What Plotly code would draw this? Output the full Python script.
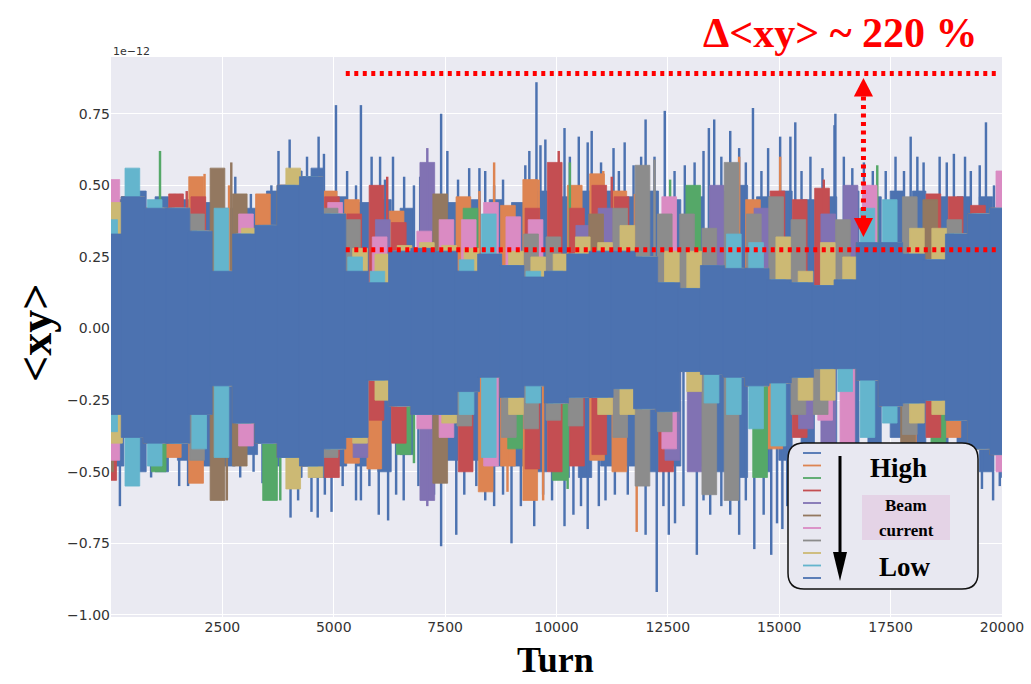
import plotly.graph_objects as go

# ---------------- data (in units of 1e-12) ----------------
TURNS = list(range(0, 20001, 500))          # block centres, 41 blocks

X_TICKS = [2500, 5000, 7500, 10000, 12500, 15000, 17500, 20000]
Y_TICKS = [-1.00, -0.75, -0.50, -0.25, 0.00, 0.25, 0.50, 0.75]

SERIES_NAMES = ["I1 (high)", "I2", "I3", "I4", "I5", "I6", "I7", "I8", "I9", "I10", "I11 (low)"]
SERIES_COLORS = ["#4C72B0", "#DD8452", "#55A868", "#C44E52", "#8172B3", "#937860",
                 "#DA8BC3", "#8C8C8C", "#CCB974", "#64B5CD", "#4C72B0"]

# upper / lower envelopes of each series per 500-turn block
BLUE_HI_UP = [.45,.48,.46,.45,.44,.42,.42,.48,.55,.56,.46,.44,.45,.42,.45,.44,.45,.45,.44,.48,.46,
              .48,.48,.46,.48,.45,.46,.48,.50,.46,.48,.45,.46,.48,.46,.48,.48,.46,.46,.46,.48]
BLUE_HI_LO = [-.48,-.50,-.50,-.46,-.48,-.48,-.44,-.48,-.52,-.52,-.48,-.48,-.50,-.44,-.48,-.46,-.46,-.48,-.48,-.50,-.52,
              -.52,-.48,-.48,-.50,-.48,-.48,-.50,-.52,-.50,-.46,-.42,-.42,-.42,-.42,-.38,-.42,-.42,-.46,-.50,-.52]
ORANGE_UP = [.33,.46,.42,.42,.53,.20,.33,.47,.50,.53,.48,.45,.16,.41,.28,.27,.46,.26,.43,.52,.20,
             .50,.54,.48,.25,.16,.14,.22,.21,.45,.17,.16,.15,.17,.30,.30,.26,.24,.33,.40,.42]
ORANGE_LO = [-.30,-.38,-.40,-.45,-.54,-.20,-.33,-.40,-.45,-.48,-.42,-.47,-.49,-.27,-.30,-.30,-.22,-.57,-.48,-.60,-.26,
             -.24,-.46,-.50,-.28,-.29,-.15,-.16,-.17,-.20,-.42,-.17,-.14,-.14,-.18,-.27,-.42,-.25,-.38,-.42,-.44]
GREEN_UP = [.33,.46,.42,.42,.34,.20,.33,.36,.50,.53,.40,.20,.16,.27,.28,.27,.42,.26,.22,.18,.20,
            .26,.27,.27,.25,.16,.50,.22,.21,.21,.17,.16,.15,.17,.30,.30,.26,.24,.33,.40,.42]
GREEN_LO = [-.30,-.38,-.50,-.40,-.30,-.20,-.33,-.60,-.45,-.48,-.42,-.38,-.18,-.44,-.30,-.30,-.22,-.17,-.42,-.20,-.53,
            -.24,-.24,-.21,-.28,-.29,-.15,-.16,-.17,-.52,-.19,-.17,-.14,-.14,-.18,-.27,-.26,-.41,-.32,-.42,-.44]
RED_UP = [.33,.46,.42,.47,.46,.20,.33,.36,.50,.53,.46,.40,.50,.37,.28,.27,.20,.26,.22,.42,.58,
          .42,.50,.46,.25,.16,.14,.22,.21,.21,.48,.45,.49,.17,.30,.30,.26,.47,.46,.43,.42]
RED_LO = [-.53,-.38,-.40,-.40,-.30,-.20,-.33,-.40,-.45,-.48,-.52,-.38,-.32,-.40,-.30,-.30,-.50,-.17,-.24,-.49,-.50,
          -.48,-.44,-.21,-.28,-.50,-.15,-.16,-.17,-.20,-.19,-.38,-.14,-.14,-.18,-.27,-.26,-.38,-.32,-.42,-.44]
PURPLE_UP = [.33,.46,.42,.42,.34,.20,.33,.36,.50,.53,.40,.20,.38,.27,.58,.27,.20,.26,.22,.18,.20,
             .36,.42,.27,.25,.16,.14,.50,.21,.42,.17,.16,.40,.50,.30,.30,.26,.24,.33,.40,.42]
PURPLE_LO = [-.30,-.38,-.40,-.40,-.30,-.20,-.33,-.40,-.45,-.48,-.42,-.45,-.18,-.27,-.60,-.30,-.22,-.17,-.24,-.20,-.26,
             -.24,-.24,-.21,-.28,-.46,-.50,-.16,-.17,-.20,-.19,-.35,-.40,-.14,-.18,-.27,-.26,-.25,-.32,-.42,-.44]
BROWN_UP = [.33,.46,.42,.42,.34,.56,.47,.36,.50,.53,.40,.20,.16,.27,.28,.47,.20,.26,.22,.18,.20,
            .26,.40,.27,.25,.16,.14,.22,.21,.21,.17,.16,.15,.17,.30,.30,.26,.45,.33,.40,.42]
BROWN_LO = [-.50,-.38,-.40,-.40,-.30,-.60,-.48,-.40,-.45,-.48,-.42,-.38,-.18,-.27,-.30,-.54,-.22,-.17,-.24,-.20,-.26,
            -.24,-.24,-.21,-.28,-.29,-.15,-.16,-.17,-.20,-.19,-.17,-.14,-.14,-.18,-.27,-.40,-.25,-.32,-.42,-.44]
PINK_UP = [.52,.46,.42,.42,.34,.20,.40,.36,.50,.53,.44,.20,.32,.27,.34,.38,.38,.44,.39,.38,.20,
           .26,.27,.27,.25,.46,.14,.22,.21,.21,.17,.16,.15,.17,.50,.30,.26,.24,.33,.40,.55]
PINK_LO = [-.46,-.38,-.40,-.40,-.30,-.20,-.41,-.40,-.45,-.48,-.42,-.38,-.18,-.27,-.35,-.38,-.22,-.48,-.24,-.20,-.26,
           -.24,-.24,-.21,-.28,-.42,-.15,-.16,-.17,-.20,-.19,-.17,-.32,-.40,-.18,-.27,-.26,-.25,-.32,-.42,-.50]
GRAY_UP = [.33,.46,.42,.42,.40,.20,.33,.36,.50,.53,.42,.38,.16,.27,.28,.27,.20,.26,.22,.33,.32,
           .26,.27,.42,.57,.40,.40,.35,.58,.40,.46,.38,.15,.38,.30,.30,.46,.24,.38,.40,.42]
GRAY_LO = [-.30,-.38,-.40,-.40,-.46,-.20,-.33,-.40,-.45,-.48,-.45,-.38,-.18,-.27,-.30,-.30,-.34,-.17,-.38,-.35,-.32,
           -.34,-.24,-.38,-.55,-.36,-.15,-.58,-.60,-.20,-.19,-.30,-.30,-.14,-.18,-.27,-.37,-.25,-.32,-.42,-.44]
OLIVE_UP = [.44,.46,.42,.42,.34,.20,.35,.36,.56,.53,.40,.28,.26,.29,.30,.29,.28,.26,.27,.25,.26,
            .32,.30,.36,.25,.27,.27,.22,.21,.21,.32,.20,.30,.25,.30,.30,.35,.35,.33,.40,.42]
OLIVE_LO = [-.40,-.38,-.40,-.40,-.30,-.20,-.33,-.40,-.56,-.52,-.42,-.40,-.25,-.27,-.30,-.33,-.22,-.17,-.30,-.20,-.26,
            -.24,-.30,-.30,-.28,-.29,-.22,-.16,-.17,-.20,-.19,-.25,-.25,-.14,-.18,-.27,-.33,-.30,-.32,-.42,-.44]
CYAN_UP = [.38,.56,.45,.42,.34,.42,.33,.36,.50,.53,.40,.25,.20,.27,.28,.27,.24,.40,.22,.20,.20,
           .26,.27,.27,.25,.16,.14,.22,.33,.30,.17,.16,.15,.17,.42,.45,.26,.24,.33,.40,.42]
CYAN_LO = [-.36,-.55,-.48,-.40,-.42,-.45,-.33,-.40,-.45,-.48,-.42,-.38,-.18,-.27,-.30,-.30,-.30,-.45,-.24,-.26,-.26,
           -.24,-.24,-.21,-.28,-.29,-.15,-.26,-.30,-.35,-.41,-.17,-.14,-.22,-.38,-.33,-.26,-.25,-.32,-.42,-.44]
BLUE_LO_UP = [.33,.46,.42,.42,.34,.20,.33,.36,.50,.53,.40,.20,.16,.27,.28,.27,.20,.26,.22,.18,.20,
              .26,.27,.27,.25,.16,.14,.22,.21,.21,.17,.16,.15,.17,.30,.30,.26,.24,.33,.40,.42]
BLUE_LO_LO = [-.30,-.38,-.40,-.40,-.30,-.20,-.33,-.40,-.45,-.48,-.42,-.38,-.18,-.27,-.30,-.30,-.22,-.17,-.24,-.20,-.26,
              -.24,-.24,-.21,-.28,-.29,-.15,-.16,-.17,-.20,-.19,-.17,-.14,-.14,-.18,-.27,-.26,-.25,-.32,-.42,-.44]

# isolated narrow excursions (turn, value)
BLUE_HI_SPIKE_T = [1430,1560,1800,2790,2960,3140,3600,3760,4010,4400,4660,4780,5050,5300,5500,5610,5850,6040,6150,6330,
                   6580,6800,6940,7000,7200,7410,7550,7790,8040,8270,8400,8600,8800,9300,9390,9550,9640,9750,9900,10180,
                   10300,10500,10700,10790,11000,11280,11400,11530,11730,11900,12000,12200,12430,12650,12880,13100,13300,
                   13420,13540,13700,13900,14100,14250,14410,14600,14750,15020,15250,15360,15500,15700,15970,16240,16260,
                   16450,16640,16900,17100,17390,17610,17800,17950,18100,18240,18600,18760,18920,19170,19300,19500,19640,19820,19950]
BLUE_HI_SPIKE_V = [.47,.47,.48,.53,.46,.47,.50,.62,.66,.60,.67,.61,.78,.55,.50,.78,.60,.60,.52,.60,
                   .53,.50,.53,.55,.55,.75,.62,.52,.56,.56,.55,.50,.52,.57,.62,.86,.64,.66,.55,.70,
                   .60,.67,.65,.69,.58,.63,.55,.65,.57,.60,.73,.60,.76,.55,.57,.58,.62,
                   .70,.73,.60,.69,.63,.58,.77,.55,.63,.67,.67,.72,.55,.60,.56,.71,.75,
                   .60,.56,.58,.55,.55,.60,.55,.67,.60,.58,.60,.58,.61,.60,.55,.57,.72,.50,.55]
BLUE_HI_DIP_T = [200,600,900,1530,1730,2000,2400,2900,3200,3400,3650,4030,4200,4500,4640,4800,4950,5200,5500,5610,
                 5800,6010,6220,6400,6570,6900,7250,7410,7750,7930,8200,8400,8600,8800,8990,9200,9500,9700,9900,10180,
                 10380,10550,10700,10950,11100,11310,11600,12000,12250,12400,12520,12660,12850,13150,13300,13450,13700,
                 13900,14100,14250,14440,14650,14820,14950,15070,15180,19300,19550,19800,19950]
BLUE_HI_DIP_V = [-.62,-.50,-.52,-.55,-.55,-.52,-.50,-.52,-.50,-.54,-.58,-.66,-.60,-.64,-.66,-.58,-.64,-.55,-.60,-.60,
                 -.55,-.65,-.67,-.58,-.60,-.55,-.58,-.76,-.72,-.58,-.55,-.60,-.62,-.58,-.75,-.62,-.69,-.58,-.60,-.69,
                 -.65,-.62,-.70,-.62,-.60,-.58,-.58,-.72,-.92,-.62,-.72,-.68,-.62,-.79,-.60,-.65,-.62,
                 -.65,-.72,-.60,-.77,-.65,-.79,-.68,-.70,-.62,-.52,-.56,-.60,-.55]
ORANGE_SPIKE_T = [2100, 2350, 2650, 8270, 8600, 8900, 9600, 9700, 11050, 11760, 11800, 12050, 14100, 15020]
ORANGE_SPIKE_V = [.54, -.54, .50, .48, .58, -.57, .52, -.60, .55, .47, -.71, .56, .60, .60]
GREEN_SPIKE_T = [1100, 3800, 6800, 10250, 10300, 12550, 17200]
GREEN_SPIKE_V = [.62, -.60, -.47, -.56, .58, .52, .57]
RED_SPIKE_T = [400, 1700, 6200, 10050, 11240, 16000]
RED_SPIKE_V = [-.52, .48, .53, .62, .53, .52]
PURPLE_SPIKE_T = [7100, 7100]
PURPLE_SPIKE_V = [.63, -.62]
BROWN_SPIKE_T = [2600, 2700]
BROWN_SPIKE_V = [-.60, .58]
GRAY_SPIKE_T = [12200]
GRAY_SPIKE_V = [.59]

# annotation levels
REF_LEVELS = [0.89, 0.275]
REF_SPAN = [5270, 19910]
ARROW_TURN = 16890
ARROW_TOP = [0.875, 0.81]      # tip, base of upper head
ARROW_BOTTOM = [0.32, 0.386]   # tip, base of lower head

SERIES = [
    (BLUE_HI_UP, BLUE_HI_LO, BLUE_HI_SPIKE_T + BLUE_HI_DIP_T, BLUE_HI_SPIKE_V + BLUE_HI_DIP_V),
    (ORANGE_UP, ORANGE_LO, ORANGE_SPIKE_T, ORANGE_SPIKE_V),
    (GREEN_UP, GREEN_LO, GREEN_SPIKE_T, GREEN_SPIKE_V),
    (RED_UP, RED_LO, RED_SPIKE_T, RED_SPIKE_V),
    (PURPLE_UP, PURPLE_LO, PURPLE_SPIKE_T, PURPLE_SPIKE_V),
    (BROWN_UP, BROWN_LO, BROWN_SPIKE_T, BROWN_SPIKE_V),
    (PINK_UP, PINK_LO, [], []),
    (GRAY_UP, GRAY_LO, GRAY_SPIKE_T, GRAY_SPIKE_V),
    (OLIVE_UP, OLIVE_LO, [], []),
    (CYAN_UP, CYAN_LO, [], []),
    (BLUE_LO_UP, BLUE_LO_LO, [], []),
]

# ---------------- style ----------------
W, H = 1031, 684
L, R, T, B = 111, 29, 57, 67
X_RANGE = [0, 20000]
Y_RANGE = [-1.007, 0.948]
BAR_WIDTH = [300, 330, 330, 330, 330, 330, 330, 330, 330, 330, 540]
BAR_SHIFT = [140, -90, 70, -40, 100, -110, 30, -70, 90, -20, 0]
SPIKE_WIDTH = 55


def px(xp):
    return (xp - L) / (W - L - R)


def py(yp):
    return (H - B - yp) / (H - T - B)


fig = go.Figure()
for (up, lo, st, sv), name, col, bw, sh in zip(SERIES, SERIES_NAMES, SERIES_COLORS, BAR_WIDTH, BAR_SHIFT):
    fig.add_trace(go.Bar(x=TURNS, y=[u - l for u, l in zip(up, lo)], base=lo,
                         width=bw, offset=-bw / 2 + sh,
                         marker=dict(color=col, line=dict(width=0.8, color=col)),
                         name=name, showlegend=False, hoverinfo="skip"))
    if st:
        fig.add_trace(go.Bar(x=st, y=sv, base=0, width=SPIKE_WIDTH, offset=-SPIKE_WIDTH / 2,
                             marker=dict(color=col, line=dict(width=0)),
                             showlegend=False, hoverinfo="skip"))

shapes = []
RED = "#FF0000"
DOTS = "4px,4.5px"
for lvl in REF_LEVELS:
    shapes.append(dict(type="line", xref="x", yref="y", x0=REF_SPAN[0], x1=REF_SPAN[1], y0=lvl, y1=lvl,
                       line=dict(color=RED, width=5, dash=DOTS)))
shapes.append(dict(type="line", xref="x", yref="y", x0=ARROW_TURN, x1=ARROW_TURN,
                   y0=ARROW_TOP[1], y1=ARROW_BOTTOM[1], line=dict(color=RED, width=5, dash=DOTS)))
hw = 215
shapes.append(dict(type="path", xref="x", yref="y", fillcolor=RED, line=dict(width=0),
                   path=f"M {ARROW_TURN-hw},{ARROW_TOP[1]} L {ARROW_TURN+hw},{ARROW_TOP[1]} L {ARROW_TURN},{ARROW_TOP[0]} Z"))
shapes.append(dict(type="path", xref="x", yref="y", fillcolor=RED, line=dict(width=0),
                   path=f"M {ARROW_TURN-hw},{ARROW_BOTTOM[1]} L {ARROW_TURN+hw},{ARROW_BOTTOM[1]} L {ARROW_TURN},{ARROW_BOTTOM[0]} Z"))

# legend-like box (bottom right)
bx0, bx1, by0, by1 = px(788), px(978), py(589), py(443)
rx, ry = 16 / (W - L - R), 16 / (H - T - B)
box_path = (f"M {bx0+rx},{by0} L {bx1-rx},{by0} Q {bx1},{by0} {bx1},{by0+ry} L {bx1},{by1-ry} "
            f"Q {bx1},{by1} {bx1-rx},{by1} L {bx0+rx},{by1} Q {bx0},{by1} {bx0},{by1-ry} "
            f"L {bx0},{by0+ry} Q {bx0},{by0} {bx0+rx},{by0} Z")
shapes.append(dict(type="path", xref="paper", yref="paper", path=box_path,
                   fillcolor="#E8E8F1", line=dict(color="#111111", width=1.5), layer="above"))
for i, col in enumerate(SERIES_COLORS):
    yy = py(453 + 12.5 * i)
    shapes.append(dict(type="line", xref="paper", yref="paper", x0=px(803), x1=px(821), y0=yy, y1=yy,
                       line=dict(color=col, width=1.8), layer="above"))
shapes.append(dict(type="line", xref="paper", yref="paper", x0=px(840), x1=px(840), y0=py(456), y1=py(556),
                   line=dict(color="black", width=3), layer="above"))
shapes.append(dict(type="path", xref="paper", yref="paper", fillcolor="black", line=dict(width=0), layer="above",
                   path=f"M {px(833)},{py(552)} L {px(847)},{py(552)} L {px(840)},{py(581)} Z"))
shapes.append(dict(type="rect", xref="paper", yref="paper", x0=px(862), x1=px(950), y0=py(540), y1=py(495),
                   fillcolor="#E4D3E6", line=dict(width=0), layer="above"))

SERIF = "Liberation Serif, Times New Roman, serif"
annotations = [
    dict(text="<b>Δ&lt;xy&gt; ~ 220 %</b>", x=px(840), y=py(33), xref="paper", yref="paper",
         showarrow=False, font=dict(family=SERIF, size=42, color=RED), xanchor="center", yanchor="middle"),
    dict(text="<b>&lt;xy&gt;</b>", x=px(35), y=py(333), xref="paper", yref="paper", textangle=-90,
         showarrow=False, font=dict(family=SERIF, size=46, color="black"), xanchor="center", yanchor="middle"),
    dict(text="<b>Turn</b>", x=px(555), y=py(660), xref="paper", yref="paper",
         showarrow=False, font=dict(family=SERIF, size=36, color="black"), xanchor="center", yanchor="middle"),
    dict(text="1e−12", x=0, y=py(51), xref="paper", yref="paper", showarrow=False,
         font=dict(family="DejaVu Sans", size=11, color="#333333"), xanchor="left", yanchor="middle"),
    dict(text="<b>High</b>", x=px(898), y=py(468), xref="paper", yref="paper", showarrow=False,
         font=dict(family=SERIF, size=27, color="black"), xanchor="center", yanchor="middle"),
    dict(text="<b>Low</b>", x=px(905), y=py(567), xref="paper", yref="paper", showarrow=False,
         font=dict(family=SERIF, size=27, color="black"), xanchor="center", yanchor="middle"),
    dict(text="<b>Beam</b>", x=px(906), y=py(505), xref="paper", yref="paper", showarrow=False,
         font=dict(family=SERIF, size=17, color="black"), xanchor="center", yanchor="middle"),
    dict(text="<b>current</b>", x=px(906), y=py(530), xref="paper", yref="paper", showarrow=False,
         font=dict(family=SERIF, size=17, color="black"), xanchor="center", yanchor="middle"),
]

fig.update_layout(
    template="none",
    width=W, height=H,
    margin=dict(l=L, r=R, t=T, b=B, autoexpand=False),
    paper_bgcolor="white", plot_bgcolor="#EAEAF2",
    barmode="overlay",
    shapes=shapes, annotations=annotations, showlegend=False,
    xaxis=dict(range=X_RANGE, tickvals=X_TICKS, ticktext=[str(v) for v in X_TICKS], automargin=False,
               showgrid=True, gridcolor="white", gridwidth=1.2, zeroline=False, showline=False,
               ticks="", tickfont=dict(family="DejaVu Sans", size=14, color="#333333"), layer="below traces"),
    yaxis=dict(range=Y_RANGE, tickvals=Y_TICKS, ticktext=[f"{v:.2f}".replace("-", "−") for v in Y_TICKS],
               automargin=False,
               showgrid=True, gridcolor="white", gridwidth=1.2, zeroline=False, showline=False,
               ticks="", tickfont=dict(family="DejaVu Sans", size=14, color="#333333"), layer="below traces"),
)

fig.write_html("out.html", config={"displayModeBar": False},
               post_script="document.body.style.margin='0px';")
